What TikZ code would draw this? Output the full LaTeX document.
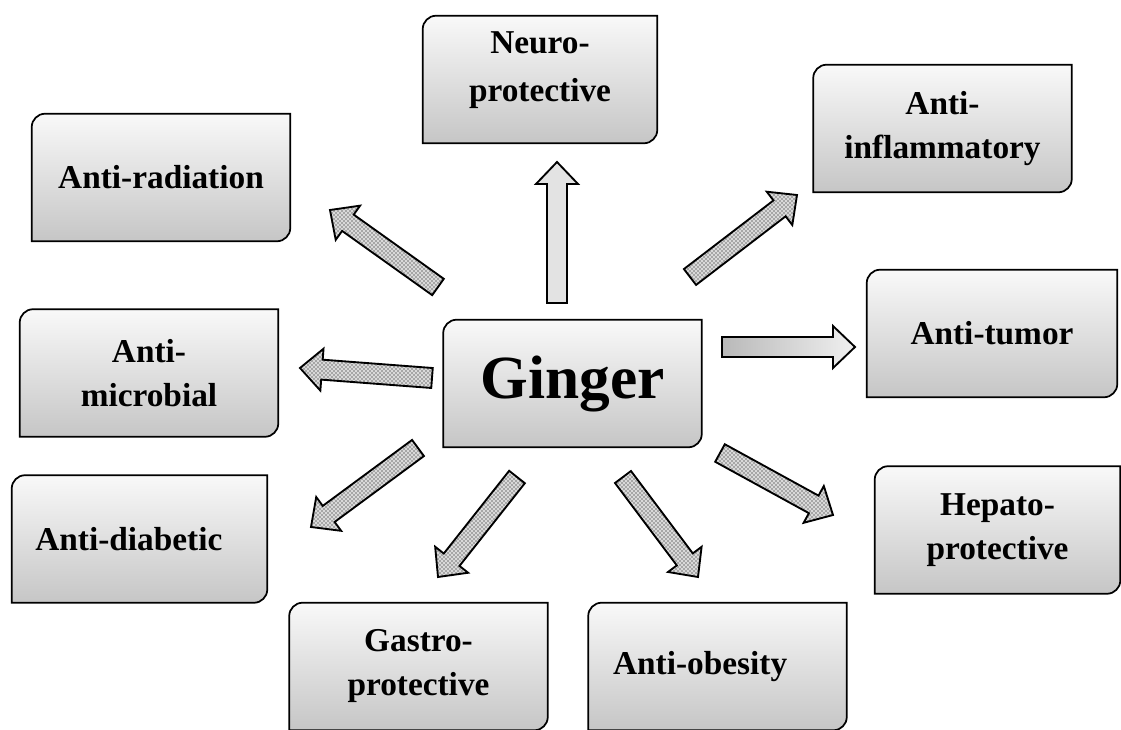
\documentclass[tikz,border=0pt]{standalone}
\usepackage{fontspec}
\setmainfont{Liberation Serif}
\usetikzlibrary{calc, patterns, backgrounds}

\begin{document}
\begin{tikzpicture}[x=0.75pt, y=0.75pt,
    box/.style={rectangle, minimum width=193.5pt, minimum height=95.25pt, inner sep=0pt, align=center, font=\fontsize{25}{33}\selectfont\bfseries},
    boxfill/.style={draw=black, line width=1.3pt, top color=gray!5, bottom color=gray!45},
    blockarrow/.style={draw=black, line width=1.4pt, line join=miter, to path={
        ($(\tikztostart)!7.5pt!90:(\tikztotarget)$)
        -- ($(\tikztotarget)!16.5pt!(\tikztostart)!7.5pt!90:(\tikztotarget)$)
        -- ($(\tikztotarget)!16.5pt!(\tikztostart)!15.75pt!90:(\tikztotarget)$)
        -- (\tikztotarget)
        -- ($(\tikztotarget)!16.5pt!(\tikztostart)!15.75pt!-90:(\tikztotarget)$)
        -- ($(\tikztotarget)!16.5pt!(\tikztostart)!7.5pt!-90:(\tikztotarget)$)
        -- ($(\tikztostart)!7.5pt!-90:(\tikztotarget)$) -- cycle}},
    dotarrow/.style={blockarrow, preaction={fill=gray!30}, pattern=crosshatch dots, pattern color=black},
    plainarrow/.style={blockarrow, fill=gray!22},
    shadearrow/.style={blockarrow, left color=gray!55, right color=gray!12}]
    \useasboundingbox (0,0) rectangle (1121,729);

    % boxes
    \node[box, minimum width=175.5pt, font=\fontsize{25}{36}\selectfont\bfseries, text depth=20pt] (neuro) at (540,649.5) {Neuro-\\protective};
    \node[box] (infl) at (942.5,600.5) {Anti-\\inflammatory};
    \node[box] (rad) at (161,551.5) {Anti-radiation};
    \node[box] (micro) at (149,356) {Anti-\\microbial};
    \node[box, font=\fontsize{46}{50}\selectfont\bfseries] (ginger) at (572.5,345.5) {Ginger};
    \node[box, minimum width=187.5pt] (tumor) at (992,395.5) {Anti-tumor};
    \node[box, minimum width=191.25pt] (diab) at (139.5,190) {Anti-diabetic\hspace*{16pt}};
    \node[box, minimum width=183.75pt] (hepato) at (997.5,199) {Hepato-\\protective};
    \node[box] (gastro) at (418.5,62.5) {Gastro-\\protective};
    \node[box] (obes) at (717.5,62.5) {Anti-obesity\hspace*{26pt}};

    \begin{scope}[on background layer]
        \foreach \n in {neuro, infl, rad, micro, ginger, tumor, diab, hepato, gastro, obes}
            \draw[boxfill] (\n.south west) -- ([yshift=-20pt]\n.north west) [rounded corners=10pt] -- (\n.north west) -- ([xshift=20pt]\n.north west) [sharp corners] -- (\n.north east) -- ([yshift=20pt]\n.south east) [rounded corners=10pt] -- (\n.south east) -- ([xshift=-20pt]\n.south east) [sharp corners] -- cycle;
    \end{scope}

    % arrow ends
    \coordinate (tneuro) at (557,426);  \coordinate (hneuro) at (557,567);
    \coordinate (tinfl) at (690,452);   \coordinate (hinfl) at (797,534);
    \coordinate (ttumor) at (722,382);  \coordinate (htumor) at (855,382);
    \coordinate (trad) at (438,442);    \coordinate (hrad) at (330,519);
    \coordinate (tmicro) at (432,351);  \coordinate (hmicro) at (300,361);
    \coordinate (tdiab) at (418,281);   \coordinate (hdiab) at (311,202);
    \coordinate (tgastro) at (517,252); \coordinate (hgastro) at (438,152);
    \coordinate (tobes) at (623,252);   \coordinate (hobes) at (698,152);
    \coordinate (thepato) at (720,276); \coordinate (hhepato) at (833,214);

    \draw[plainarrow] (tneuro) to (hneuro);
    \draw[dotarrow] (tinfl) to (hinfl);
    \draw[shadearrow] (ttumor) to (htumor);
    \draw[dotarrow] (trad) to (hrad);
    \draw[dotarrow] (tmicro) to (hmicro);
    \draw[dotarrow] (tdiab) to (hdiab);
    \draw[dotarrow] (tgastro) to (hgastro);
    \draw[dotarrow] (tobes) to (hobes);
    \draw[dotarrow] (thepato) to (hhepato);
\end{tikzpicture}
\end{document}
